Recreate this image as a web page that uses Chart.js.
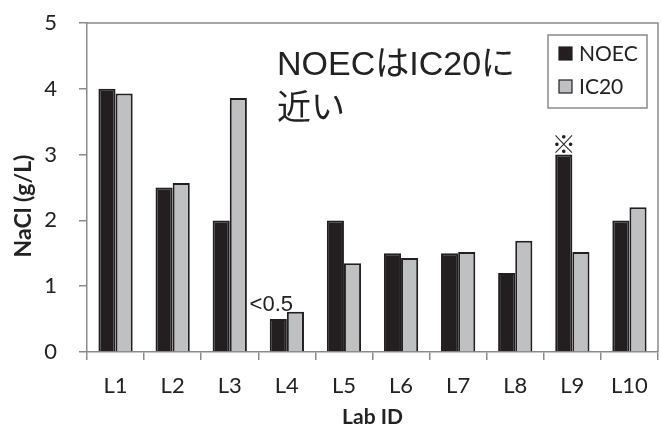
<!DOCTYPE html>
<html>
<head>
<meta charset="utf-8">
<script src="https://cdn.jsdelivr.net/npm/chart.js@4"></script>
<style>
  html, body { margin: 0; padding: 0; background: #fff; }
  #wrap { width: 661px; height: 428px; }
</style>
</head>
<body>
<div id="wrap"><canvas id="myChart" width="661" height="428"></canvas></div>
<script>
// categories and values
var labs = ['L1', 'L2', 'L3', 'L4', 'L5', 'L6', 'L7', 'L8', 'L9', 'L10'];
var noec = [4.0, 2.5, 2.0, 0.5, 2.0, 1.5, 1.5, 1.2, 3.0, 2.0];
var ic20 = [3.93, 2.57, 3.86, 0.61, 1.35, 1.43, 1.52, 1.69, 1.52, 2.2];
var yTicks = [0, 1, 2, 3, 4, 5];

var tickFont = "Lato, 'Open Sans', sans-serif";
var noteFont = "'Liberation Sans', 'Noto Sans CJK JP', sans-serif";
var axisGray = '#8a8a8a';

// extra drawing: frame, legend, notes, y title
var extras = {
  id: 'extras',
  afterDraw: function (chart) {
    var c = chart.ctx, a = chart.chartArea;
    c.save();
    // top/right frame of the plot
    c.strokeStyle = axisGray;
    c.lineWidth = 1.5;
    c.beginPath();
    c.moveTo(a.left, a.top);
    c.lineTo(a.right, a.top);
    c.lineTo(a.right, a.bottom);
    c.stroke();

    // y axis title (sits a bit below the axis middle, like the original)
    c.save();
    c.translate(24, 206);
    c.rotate(-Math.PI / 2);
    c.fillStyle = '#222';
    c.font = "bold 23px " + tickFont;
    c.textAlign = 'center';
    c.textBaseline = 'middle';
    c.fillText('NaCl (g/L)', 0, 0);
    c.restore();

    // legend box
    c.strokeStyle = axisGray;
    c.lineWidth = 1.5;
    c.strokeRect(548, 35, 99, 73);
    var ds = chart.data.datasets;
    for (var i = 0; i < ds.length; i++) {
      var y = 47 + i * 33;
      c.fillStyle = ds[i].backgroundColor;
      c.fillRect(559, y, 13, 13);
      c.strokeStyle = '#231f20';
      c.lineWidth = 1.2;
      c.strokeRect(559, y, 13, 13);
      c.fillStyle = '#222';
      c.font = "21px " + tickFont;
      c.textAlign = 'left';
      c.textBaseline = 'middle';
      c.fillText(ds[i].label, 579, y + 7);
    }

    // big note
    c.fillStyle = '#222';
    c.font = "34px " + noteFont;
    c.textAlign = 'left';
    c.textBaseline = 'alphabetic';
    c.fillText('NOECはIC20に', 277, 75);
    c.fillText('近い', 277, 119);

    // small notes on bars
    var bars = chart.getDatasetMeta(0).data;
    c.font = "22px " + noteFont;
    c.textAlign = 'center';
    c.textBaseline = 'bottom';
    c.fillText('<0.5', bars[3].x - 7, bars[3].y - 3);
    c.font = "24px " + noteFont;
    c.fillText('※', bars[8].x, bars[8].y + 4);
    c.restore();
  }
};

var ctx = document.getElementById('myChart').getContext('2d');
var chart = new Chart(ctx, {
  type: 'bar',
  data: {
    labels: labs,
    datasets: [
      {
        label: 'NOEC',
        data: noec,
        backgroundColor: '#231f20',
        borderColor: '#231f20',
        borderWidth: 2
      },
      {
        label: 'IC20',
        data: ic20,
        backgroundColor: '#bfc0c2',
        borderColor: '#231f20',
        borderWidth: 2
      }
    ]
  },
  options: {
    responsive: false,
    animation: false,
    layout: {
      padding: { top: 23, right: 3, left: 0, bottom: 0 }
    },
    datasets: {
      bar: { categoryPercentage: 0.6, barPercentage: 1.0 }
    },
    plugins: {
      legend: { display: false },
      tooltip: { enabled: false }
    },
    scales: {
      x: {
        afterFit: function (s) { s.height = 76; s.paddingLeft = 0; s.paddingRight = 0; },
        grid: {
          offset: true,
          drawOnChartArea: false,
          color: axisGray,
          lineWidth: 1.5,
          tickLength: 8
        },
        border: { color: axisGray, width: 1.5 },
        ticks: {
          color: '#222',
          font: { family: tickFont, size: 22 },
          padding: 13
        },
        title: {
          display: true,
          text: 'Lab ID',
          color: '#222',
          font: { family: tickFont, size: 21, weight: 'bold', lineHeight: 1.0 },
          padding: { top: 0, bottom: 0 }
        }
      },
      y: {
        min: 0,
        max: 5,
        afterFit: function (s) { s.width = 87; s.paddingTop = 0; s.paddingBottom = 0; },
        afterBuildTicks: function (s) {
          s.ticks = yTicks.map(function (v) { return { value: v }; });
        },
        grid: {
          drawOnChartArea: false,
          color: axisGray,
          lineWidth: 1.5,
          tickLength: 8
        },
        border: { color: axisGray, width: 1.5 },
        ticks: {
          color: '#222',
          font: { family: tickFont, size: 22 },
          padding: 22
        }
      }
    }
  },
  plugins: [extras]
});
</script>
</body>
</html>
